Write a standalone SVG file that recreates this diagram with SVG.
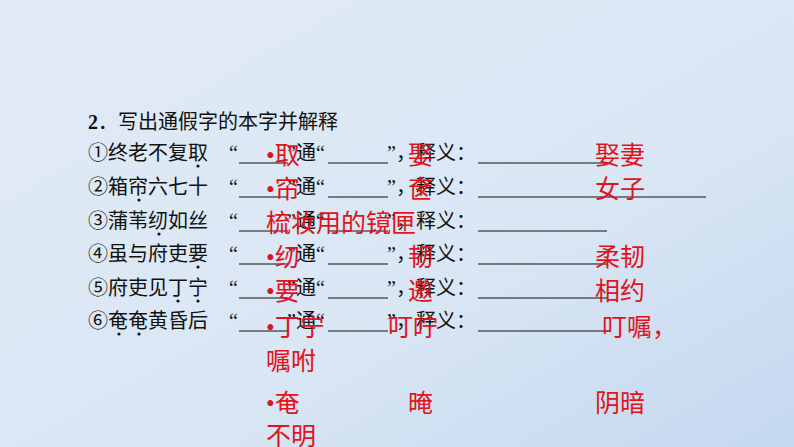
<svg xmlns="http://www.w3.org/2000/svg" width="794" height="447" viewBox="0 0 794 447">
<defs>
<linearGradient id="bg" x1="0" y1="0" x2="1" y2="1">
<stop offset="0" stop-color="#e1ebf6"/><stop offset="0.6" stop-color="#d9e6f4"/><stop offset="1" stop-color="#c4d8ef"/>
</linearGradient>
<style>
.k{font-family:"Liberation Serif","Noto Sans CJK SC",serif;font-size:20px;fill:#111}
.r{font-family:"Liberation Serif","Noto Sans CJK SC",serif;font-size:25px;fill:#e0141c}
.u{stroke:#111;stroke-width:1.2}
.d{fill:#111}
</style>
</defs>
<rect width="794" height="447" fill="url(#bg)"/>
<g id="questions">
<text class="k" x="88" y="129"><tspan font-weight="bold">2</tspan>．写出通假字的本字并解释</text>
<text class="k" x="88" y="160">①终老不复取</text>
<text class="k" x="88" y="194">②箱帘六七十</text>
<text class="k" x="88" y="228">③蒲苇纫如丝</text>
<text class="k" x="88" y="261">④虽与府吏要</text>
<text class="k" x="88" y="295">⑤府吏见丁宁</text>
<text class="k" x="88" y="328">⑥奄奄黄昏后</text>
<circle class="d" cx="198" cy="166" r="1.6"/><circle class="d" cx="139" cy="200" r="1.6"/>
<circle class="d" cx="159" cy="234" r="1.6"/><circle class="d" cx="198" cy="267" r="1.6"/>
<circle class="d" cx="178" cy="301" r="1.6"/><circle class="d" cx="198" cy="301" r="1.6"/>
<circle class="d" cx="119" cy="334" r="1.6"/><circle class="d" cx="139" cy="334" r="1.6"/>
</g>
<g id="blanks">
<text class="k" x="229" y="160">“<tspan x="287">”通“</tspan><tspan x="387">”，释义：</tspan></text>
<text class="k" x="229" y="194">“<tspan x="287">”通“</tspan><tspan x="387">”，释义：</tspan></text>
<text class="k" x="229" y="228">“<tspan x="287">”通“</tspan><tspan x="387">”，释义：</tspan></text>
<text class="k" x="229" y="261">“<tspan x="287">”通“</tspan><tspan x="387">”，释义：</tspan></text>
<text class="k" x="229" y="295">“<tspan x="287">”通“</tspan><tspan x="387">”，释义：</tspan></text>
<text class="k" x="229" y="328">“<tspan x="287">”通“</tspan><tspan x="387">”，释义：</tspan></text>
<path class="u" d="M239 163H288M328 163H388M478 163H607M239 197H288M328 197H388M478 197H706M239 231H288M328 231H388M478 231H607M239 264H288M328 264H388M478 264H607M239 298H288M328 298H388M478 298H607M239 331H288M328 331H388M478 331H604"/>
</g>
<g id="answers">
<text class="r" x="266" y="164">•取</text><text class="r" x="408" y="164">娶</text><text class="r" x="595" y="164">娶妻</text>
<text class="r" x="266" y="198">•帘</text><text class="r" x="408" y="198">奁</text><text class="r" x="595" y="198">女子</text>
<text class="r" x="266" y="232">梳妆用的镜匣</text>
<text class="r" x="266" y="266">•纫</text><text class="r" x="408" y="266">韧</text><text class="r" x="595" y="266">柔韧</text>
<text class="r" x="266" y="300">•要</text><text class="r" x="408" y="300">邀</text><text class="r" x="595" y="300">相约</text>
<text class="r" x="266" y="336">•丁宁</text><text class="r" x="388" y="336">叮咛</text><text class="r" x="602" y="336">叮嘱，</text>
<text class="r" x="266" y="370">嘱咐</text>
<text class="r" x="266" y="412">•奄</text><text class="r" x="408" y="412">晻</text><text class="r" x="595" y="412">阴暗</text>
<text class="r" x="266" y="445">不明</text>
</g>
</svg>
